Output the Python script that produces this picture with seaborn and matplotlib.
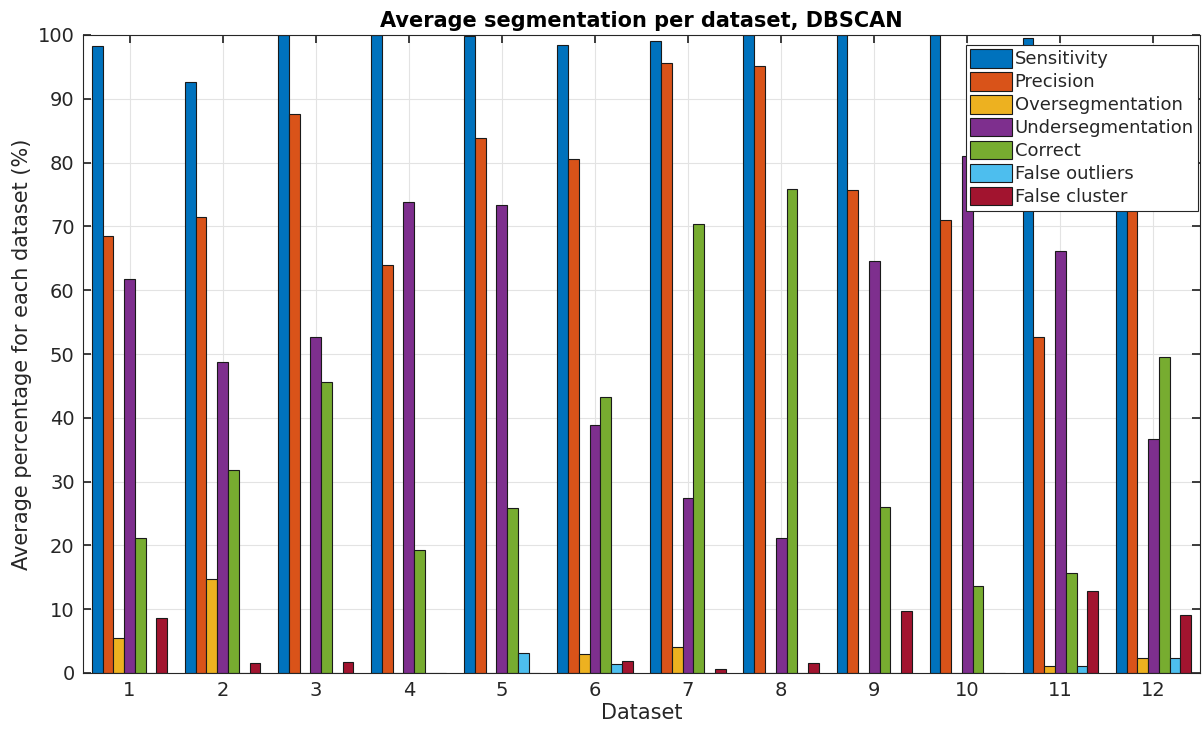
import numpy as np
import pandas as pd
import matplotlib
matplotlib.use("Agg")
import matplotlib.pyplot as plt
import seaborn as sns

datasets = [str(i) for i in range(1, 13)]
metrics = ["Sensitivity", "Precision", "Oversegmentation", "Undersegmentation",
           "Correct", "False outliers", "False cluster"]

sensitivity = [98.2, 92.7, 100.0, 100.0, 99.9, 98.5, 99.0, 100.0, 100.0, 100.0, 99.5, 95.0]
precision = [68.5, 71.5, 87.6, 64.0, 83.8, 80.6, 95.6, 95.1, 75.7, 71.0, 52.7, 76.0]
overseg = [5.5, 14.7, 0.0, 0.0, 0.0, 3.0, 4.1, 0.0, 0.0, 0.0, 1.1, 2.4]
underseg = [61.8, 48.7, 52.6, 73.8, 73.3, 38.9, 27.4, 21.2, 64.6, 81.0, 66.1, 36.7]
correct = [21.1, 31.8, 45.6, 19.3, 25.8, 43.3, 70.3, 75.8, 26.0, 13.7, 15.6, 49.5]
false_outliers = [0.0, 0.0, 0.0, 0.0, 3.2, 1.4, 0.0, 0.0, 0.0, 0.0, 1.1, 2.4]
false_cluster = [8.6, 1.6, 1.7, 0.0, 0.0, 1.9, 0.7, 1.6, 9.7, 0.0, 12.9, 9.1]

colors = ["#0072BD", "#D95319", "#EDB120", "#7E2F8E", "#77AC30", "#4DBEEE", "#A2142F"]

series = [sensitivity, precision, overseg, underseg, correct, false_outliers, false_cluster]
rows = []
for m, vals in zip(metrics, series):
    for d, v in zip(datasets, vals):
        rows.append({"Dataset": d, "Metric": m, "Value": v})
df = pd.DataFrame(rows)

sns.set_theme(style="whitegrid")
plt.rcParams['font.family'] = ['DejaVu Sans']

fig = plt.figure(figsize=(12.04, 7.31), dpi=100)
ax = fig.add_axes([83/1204, 58/731, (1200-83)/1204, (673-35)/731])

sns.barplot(data=df, x="Dataset", y="Value", hue="Metric", order=datasets,
            hue_order=metrics, palette=colors, width=0.81, saturation=1,
            edgecolor="#1a1a1a", linewidth=0.8, ax=ax, errorbar=None)

ax.set_xlim(-0.5, 11.5)
ax.set_ylim(0, 100)
ax.set_yticks(np.arange(0, 101, 10))
ax.grid(True, color="#e3e3e3", linewidth=0.8)
ax.set_axisbelow(True)
for s in ax.spines.values():
    s.set_visible(True)
    s.set_color("#262626")
    s.set_linewidth(0.8)
ax.tick_params(axis="both", direction="in", length=6, color="#262626",
               labelsize=14, labelcolor="#262626", top=True, right=True,
               bottom=True, left=True, pad=6)
ax.set_xlabel("Dataset", fontsize=15, color="#262626", labelpad=2)
ax.set_ylabel("Average percentage for each dataset (%)", fontsize=15, color="#262626")
ax.set_title("Average segmentation per dataset, DBSCAN", fontsize=15,
             fontweight="bold", color="black", pad=6)

leg = ax.legend(loc="upper right", bbox_to_anchor=(0.9985, 0.985), fontsize=13,
                frameon=True, fancybox=False, edgecolor="#262626",
                handlelength=2.3, handleheight=1.2, handletextpad=0.15,
                labelspacing=0.2, borderpad=0.25, borderaxespad=0.0)
leg.get_frame().set_linewidth(0.8)
leg.get_frame().set_alpha(1)

fig.savefig("out.png", dpi=100)
